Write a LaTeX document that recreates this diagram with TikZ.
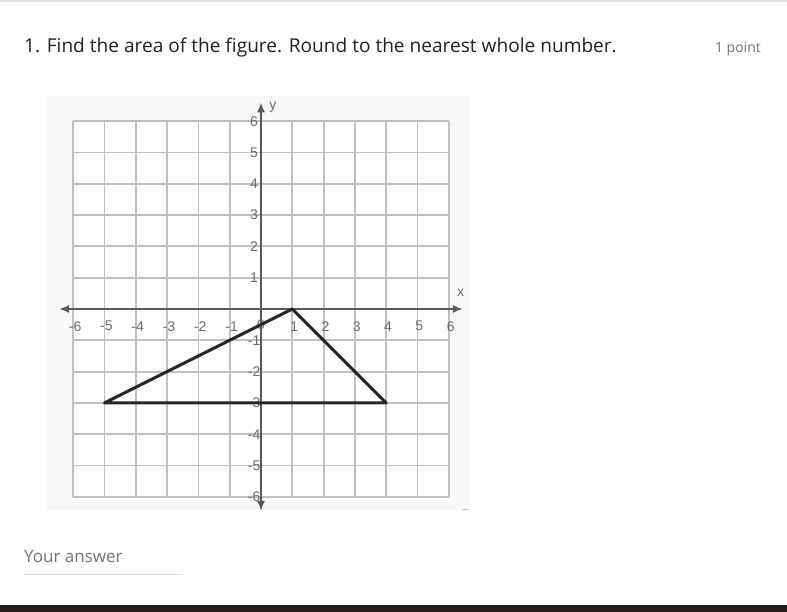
\documentclass[tikz,border=0pt]{standalone}
\usepackage{fontspec}
\setmainfont{Liberation Sans}
\newfontfamily\uifont{Open Sans}
\usetikzlibrary{arrows.meta}
\definecolor{titlecol}{HTML}{202124}
\definecolor{subcol}{HTML}{70757A}
\definecolor{linecol}{HTML}{DADCE0}
\definecolor{gridcol}{HTML}{C0C0C0}
\definecolor{axiscol}{HTML}{595959}
\definecolor{tickcol}{HTML}{6A6A6A}
\definecolor{imgbg}{HTML}{F8F8F8}
\definecolor{footcol}{HTML}{2B1A1C}
\tikzset{
  gridline/.style={draw=gridcol, line width=1.8pt},
  axisline/.style={draw=axiscol, line width=1.7pt, -{Latex[length=10pt,width=8pt]}},
  ticklab/.style={text=tickcol, font=\fontsize{14}{14}\selectfont, inner sep=0pt},
  shapeline/.style={draw=black!85, line width=3pt, line join=round},
}
\begin{document}
\begin{tikzpicture}[x=1pt,y=-1pt]
\useasboundingbox (0,0) rectangle (787,612);
\fill[white] (0,0) rectangle (787,612);
% top rule and footer bar
\fill[linecol] (0,0) rectangle (787,2);
\fill[footcol] (0,605) rectangle (787,612);
% texts
\node[anchor=base west, inner sep=0pt, text=titlecol, font=\uifont\fontsize{19.1}{19.1}\selectfont] (title) at (24,53)
  {1. Find the area of the figure. Round to the nearest whole number.};
\node[anchor=base east, inner sep=0pt, text=subcol, font=\uifont\fontsize{14}{14}\selectfont] (points) at (761,53) {1 point};
\node[anchor=base west, inner sep=0pt, text=subcol, font=\uifont\fontsize{17}{17}\selectfont] (answer) at (24,562) {Your answer};
\coordinate (ulA) at (24,574);
\coordinate (ulB) at (183,574);
\draw[linecol, line width=1pt] (ulA) -- (ulB);
% image background
\fill[imgbg] (47,96) rectangle (470,510);
\draw[gridcol, line width=1pt] (462,509) -- (468,509);
% coordinate grid
\begin{scope}[shift={(261,309)}, x=31.3pt, y=31.3pt]
  \fill[white] (-6,-6) rectangle (6,6);
  \foreach \i in {-6,...,6} {
    \draw[gridline] (\i,-6) -- (\i,6);
    \draw[gridline] (-6,\i) -- (6,\i);
  }
  \coordinate (xl) at (-6.45,0);
  \coordinate (xr) at (6.45,0);
  \coordinate (yb) at (0,-6.45);
  \coordinate (yt) at (0,6.6);
  \draw[axisline] (0,0) -- (xr);
  \draw[axisline] (0,0) -- (xl);
  \draw[axisline] (0,0) -- (yt);
  \draw[axisline] (0,0) -- (yb);
  \node[text=tickcol, font=\fontsize{14}{14}\selectfont] (xlab) at (6.38,0.52) {x};
  \node[text=tickcol, font=\fontsize{14}{14}\selectfont] (ylab) at (0.38,6.45) {y};
  \foreach \i in {-6,...,-1,1,2,...,6} {
    \node[ticklab] (xt\i) at (\i+0.06,-0.55) {\i};
    \node[ticklab] (yt\i) at (-0.22,\i) {\i};
  }
  \node[ticklab] (xt0) at (0,-0.5) {0};
  % triangle
  \coordinate (A) at (-5,-3);
  \coordinate (B) at (1,0);
  \coordinate (C) at (4,-3);
  \draw[shapeline] (A) -- (B) -- (C) -- cycle;
\end{scope}
\end{tikzpicture}
\end{document}
